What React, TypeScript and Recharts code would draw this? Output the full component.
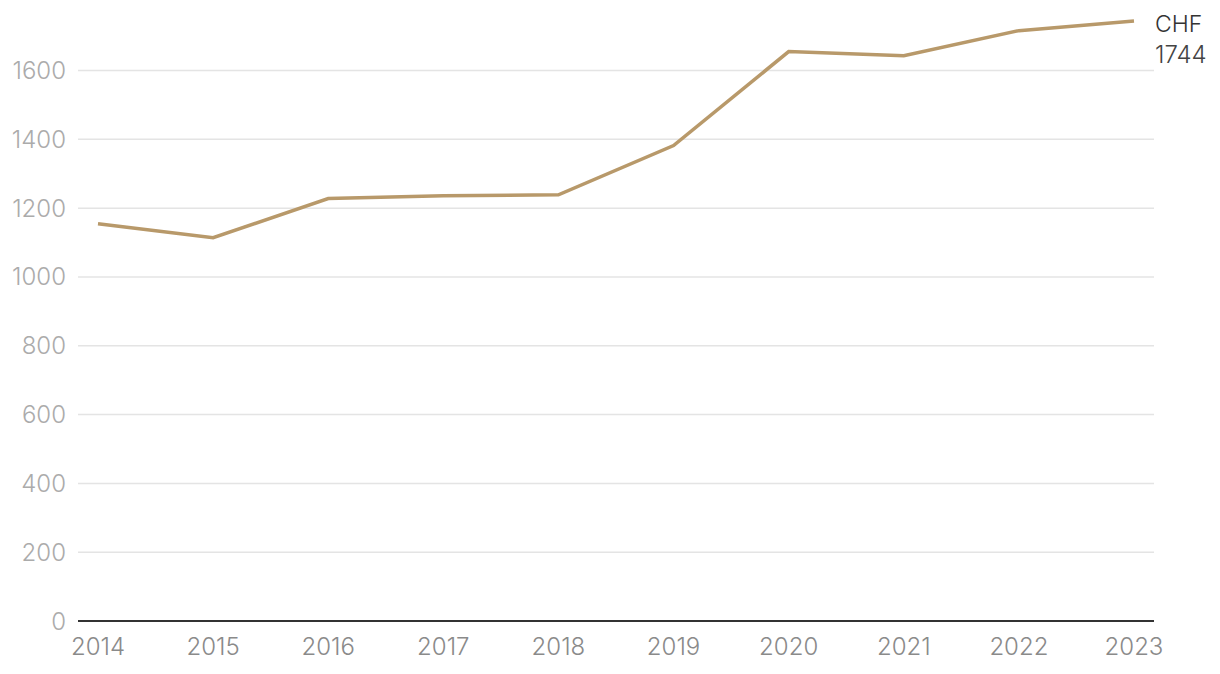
import { LineChart, Line, XAxis, YAxis, CartesianGrid, LabelList } from "recharts";

const years = ["2014", "2015", "2016", "2017", "2018", "2019", "2020", "2021", "2022", "2023"];
const chfValues = [1155, 1114, 1228, 1236, 1239, 1382, 1655, 1643, 1716, 1744];
const yTicks = [0, 200, 400, 600, 800, 1000, 1200, 1400, 1600];

const data = years.map((year, i) => ({ year, chf: chfValues[i] }));

const FONT = "Inter, Roboto, 'Noto Sans', sans-serif";

// label only on the last point: "CHF" over the value
const EndLabel = (props: any) => {
  const { x, y, value, index } = props;
  if (index !== data.length - 1) return null;
  return (
    <g>
      <text x={x + 21} y={y + 11} fill="#333" fontSize={23} fontWeight={300} fontFamily={FONT}>
        CHF
      </text>
      <text x={x + 21} y={y + 42} fill="#444" fontSize={24} fontWeight={300} fontFamily={FONT}>
        {value}
      </text>
    </g>
  );
};

export default function App() {
  return (
    <div style={{ position: "fixed", left: 0, top: 0, background: "#fff" }}>
      <LineChart
        width={1220}
        height={674}
        data={data}
        margin={{ top: 21, right: 66, left: 0, bottom: 0 }}
      >
        <CartesianGrid
          vertical={false}
          horizontalValues={yTicks}
          stroke="#e4e4e4"
          strokeWidth={1.5}
        />
        <XAxis
          dataKey="year"
          height={53}
          padding={{ left: 20, right: 20 }}
          axisLine={{ stroke: "#333", strokeWidth: 2 }}
          tickLine={false}
          tickSize={0}
          tickMargin={17}
          interval={0}
          tick={{ fill: "#8a8a8a", fontSize: 24, fontWeight: 300, fontFamily: FONT }}
        />
        <YAxis
          domain={[0, 1744]}
          ticks={yTicks}
          width={78}
          axisLine={false}
          tickLine={false}
          tickSize={0}
          tickMargin={12}
          tick={{ fill: "#ababab", fontSize: 24, fontWeight: 300, fontFamily: FONT }}
        />
        <Line
          type="linear"
          dataKey="chf"
          stroke="#b8996a"
          strokeWidth={3.5}
          dot={false}
          isAnimationActive={false}
        >
          <LabelList dataKey="chf" content={<EndLabel />} />
        </Line>
      </LineChart>
    </div>
  );
}
